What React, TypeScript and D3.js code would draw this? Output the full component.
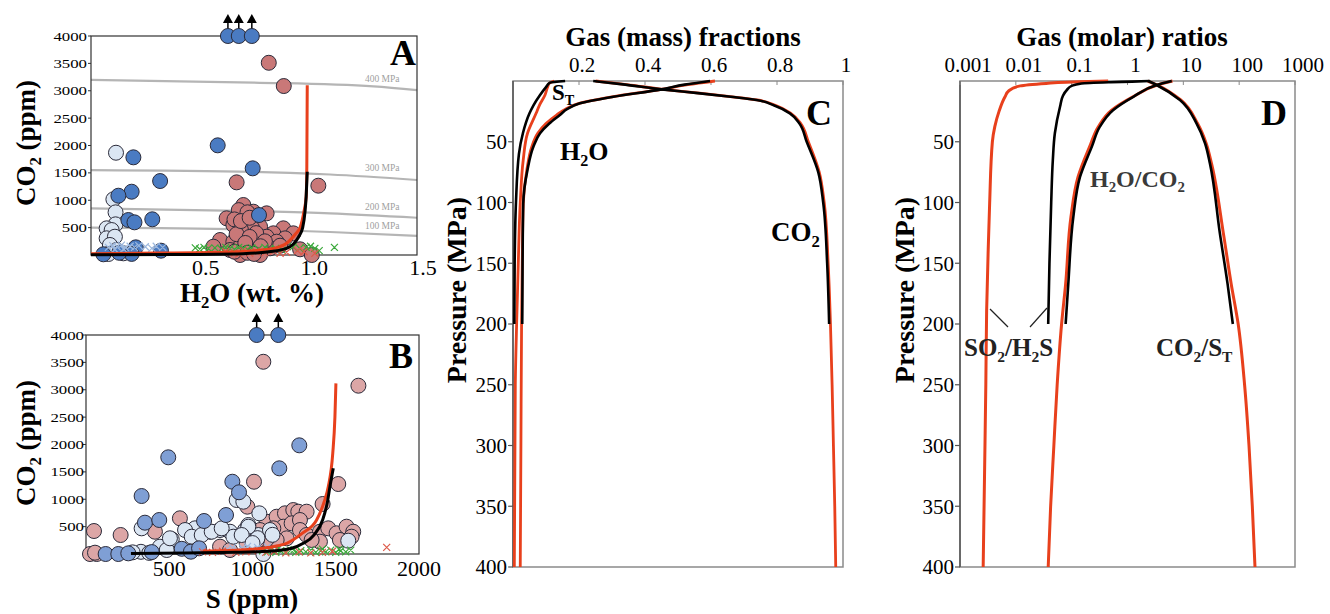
import React from "react";
import * as d3 from "d3";

const FONT = "'Liberation Serif', 'Times New Roman', serif";

// ---------- Panel A: H2O (wt.%) vs CO2 (ppm) ----------
const aBlueUp = [0.63, 0.68, 0.74]; // off-scale points (CO2 > 4000)
const aBlue = [
  [0.195, 1784], [0.583, 2003], [0.744, 1583], [0.318, 1351], [0.187, 1156],
  [0.126, 1083], [0.172, 639], [0.2, 597], [0.282, 652], [0.773, 730],
  [0.057, 13], [0.206, 140], [0.322, 79], [0.187, 20], [0.13, 40],
];
const aLight = [
  [0.115, 1868], [0.103, 1017], [0.113, 779], [0.113, 560], [0.072, 487],
  [0.095, 456], [0.072, 305], [0.11, 334], [0.087, 183], [0.118, 91],
  [0.149, 31], [0.08, 18],
];
const aPink = [
  [0.818, 3511], [0.887, 3086], [0.67, 1327], [1.046, 1266],
  [0.624, 670], [0.701, 913], [0.747, 791], [0.808, 761], [0.686, 700],
  [0.716, 608], [0.655, 548], [0.778, 517], [0.716, 426], [0.885, 487],
  [0.931, 396], [0.839, 396], [0.893, 304], [0.808, 334], [0.594, 274],
  [0.655, 243], [0.762, 274], [0.854, 243], [0.747, 183], [0.686, 152],
  [0.824, 122], [0.962, 104], [0.64, 91], [0.563, 152], [0.686, 0],
  [0.778, 0], [1.016, 0], [0.68, 820], [0.72, 780], [0.66, 650],
  [0.7, 560], [0.74, 500], [0.69, 460], [0.76, 400], [0.67, 380],
  [0.73, 330], [0.8, 250], [0.71, 220], [0.78, 160], [0.87, 170],
  [0.66, 60], [0.72, 40], [0.75, 20], [0.69, 620], [0.73, 680],
];
const aGreenX = [
  [0.48, 130], [0.5, 110], [0.52, 140], [0.54, 120], [0.57, 130], [0.6, 110],
  [0.62, 140], [0.64, 120], [0.66, 100], [0.68, 140], [0.7, 120], [0.72, 100],
  [0.74, 130], [0.77, 110], [0.8, 140], [0.82, 100], [0.85, 120], [0.88, 90],
  [0.93, 150], [0.96, 120], [0.99, 140], [1.01, 160], [1.03, 120], [1.05, 80],
  [1.12, 140],
];
const aRedX = [
  [0.62, 60], [0.66, 40], [0.7, 80], [0.73, 30], [0.76, 60], [0.8, 40],
  [0.84, 70], [0.87, 30], [0.9, 50], [0.95, 80], [0.98, 60], [1.03, 30], [0.68, 20],
];
const aLightX = [
  [0.08, 140], [0.1, 170], [0.12, 150], [0.14, 180], [0.16, 130], [0.18, 160],
  [0.2, 140], [0.22, 170], [0.25, 150], [0.28, 120], [0.3, 160], [0.33, 140],
  [0.11, 100], [0.15, 110],
];
const aRedPath = [
  [0, 25], [0.3, 35], [0.6, 50], [0.75, 80], [0.85, 130], [0.9, 214], [0.94, 380],
  [0.962, 500], [0.98, 800], [0.99, 1065], [0.993, 1600], [0.995, 3100],
];
const aBlackPath = [
  [0, 5], [0.4, 10], [0.7, 25], [0.82, 60], [0.9, 120], [0.93, 195], [0.955, 330],
  [0.974, 500], [0.985, 800], [0.99, 1065], [0.995, 1521],
];
const isobarNames = ["400 MPa", "300 MPa", "200 MPa", "100 MPa"];
const isobars = [
  [[0, 3200], [0.75, 3150], [1.3, 3080], [1.5, 3010]],
  [[0, 1550], [0.75, 1520], [1.1, 1470], [1.5, 1370]],
  [[0, 850], [0.75, 800], [1.1, 760], [1.5, 680]],
  [[0, 500], [0.7, 470], [1.1, 420], [1.5, 350]],
];
const aXTicks = [0.5, 1.0, 1.5];
const coTicks = [500, 1000, 1500, 2000, 2500, 3000, 3500, 4000];

// ---------- Panel B: S (ppm) vs CO2 (ppm) ----------
const bBlueUp = [1025, 1155];
const bBlue = [
  [494, 1766], [1281, 1985], [1161, 1565], [879, 1320], [919, 1127], [334, 1059],
  [354, 572], [440, 621], [709, 603], [841, 712], [118, 0], [194, 0], [254, 12],
  [395, 35], [575, 95], [630, 42], [679, 104],
];
const bLight = [
  [905, 986], [945, 955], [1041, 743], [955, 438], [975, 530], [865, 407],
  [805, 438], [745, 407], [655, 469], [595, 438], [635, 316], [515, 268],
  [334, 469], [1035, 347], [1105, 438], [885, 316], [1030, 290], [1575, 243],
  [1065, 0], [444, 134], [485, 73], [330, 40], [380, 20], [280, 30],
  [695, 347], [755, 407], [815, 469], [975, 499], [935, 347], [504, 287],
  [1000, 200], [1120, 350],
];
const bPink = [
  [1065, 3511], [1636, 3074], [1009, 1320], [1515, 1278], [969, 864], [1421, 913],
  [48, 420], [208, 347], [414, 407], [564, 652], [24, 0], [64, 0], [54, 24],
  [1085, 590], [1145, 681], [1195, 743], [1245, 803], [1275, 773], [1325, 773],
  [1185, 499], [1235, 560], [1285, 621], [1125, 469], [1045, 438], [1285, 438],
  [1325, 347], [1405, 407], [1455, 469], [1505, 378], [1565, 499], [1605, 407],
  [1595, 316], [1525, 256], [1405, 225], [1355, 256], [1205, 286], [1145, 256],
  [1085, 268], [1025, 225], [805, 134], [865, 73], [965, 195],
];
const bGreenX = [
  [1060, 60], [1090, 40], [1110, 70], [1140, 30], [1170, 60], [1200, 40],
  [1230, 70], [1260, 30], [1290, 60], [1320, 40], [1350, 70], [1380, 30],
  [1410, 60], [1440, 40], [1470, 70], [1500, 30], [1530, 60], [1560, 40],
  [1590, 70], [1150, 90], [1250, 80], [1420, 90], [1520, 85],
];
const bRedX = [
  [700, 40], [760, 30], [820, 50], [900, 30], [960, 40], [1000, 60], [1080, 30],
  [1130, 50], [1200, 20], [1280, 40], [1350, 20], [1420, 30], [1480, 50], [1806, 122],
];
const bLightX = [
  [850, 90], [880, 120], [910, 70], [940, 110], [970, 140], [1000, 90],
  [1030, 120], [1060, 80], [1090, 130], [1120, 100], [1150, 70],
];
const bRedPath = [
  [700, 55], [900, 70], [1050, 100], [1150, 150], [1205, 195], [1300, 380],
  [1385, 621], [1430, 950], [1455, 1229], [1482, 1838], [1495, 2500], [1501, 3117],
];
const bBlackPath = [
  [270, 10], [600, 20], [900, 30], [1100, 50], [1230, 100], [1305, 195],
  [1370, 350], [1421, 621], [1450, 950], [1465, 1229], [1485, 1565],
];
const bXTicks = [500, 1000, 1500, 2000];

// ---------- Panel C: gas mass fractions vs pressure ----------
const pTicks = [50, 100, 150, 200, 250, 300, 350, 400];
const cXTicks = [0.2, 0.4, 0.6, 0.8, 1];
const cCO2Red = [
  [0, 0.25], [3, 0.345], [6.9, 0.455], [10, 0.565], [13, 0.665], [15.6, 0.74],
  [20, 0.795], [26.6, 0.842], [35, 0.872], [50, 0.895], [75, 0.928], [100, 0.943],
  [150, 0.955], [200, 0.962], [250, 0.967], [300, 0.971], [350, 0.975], [400, 0.978],
];
const cCO2Blk = [
  [0, 0.243], [3, 0.34], [6.9, 0.45], [10, 0.56], [13, 0.66], [15.6, 0.738],
  [20, 0.79], [26.6, 0.839], [35, 0.868], [50, 0.89], [75, 0.925], [100, 0.94],
  [150, 0.952], [200, 0.958],
];
const cH2ORed = [
  [0, 0.612], [3, 0.53], [6.9, 0.45], [13, 0.3], [18.4, 0.2], [23, 0.16],
  [28, 0.132], [35, 0.1], [43, 0.075], [54, 0.057], [73, 0.042], [101, 0.031],
  [150, 0.028], [200, 0.026], [300, 0.024], [400, 0.022],
];
const cH2OBlk = [
  [0, 0.597], [3, 0.52], [6.9, 0.45], [13, 0.304], [18.4, 0.203], [23, 0.165],
  [28, 0.142], [35, 0.11], [43, 0.082], [54, 0.062], [73, 0.044], [101, 0.031],
  [150, 0.029], [200, 0.028],
];
const cSTRed = [
  [0, 0.125], [2, 0.11], [5, 0.105], [11.5, 0.097], [20, 0.08], [26.6, 0.07],
  [43, 0.044], [65, 0.031], [100, 0.022], [150, 0.016], [200, 0.011], [250, 0.007],
  [400, 0.004],
];
const cSTBlk = [
  [0, 0.158], [1.4, 0.112], [5, 0.1], [11.5, 0.082], [20, 0.062], [26.6, 0.05],
  [43, 0.03], [60, 0.018], [100, 0.009], [150, 0.005], [200, 0.004],
];

// ---------- Panel D: gas molar ratios vs pressure ----------
const dXTicks = [0.001, 0.01, 0.1, 1, 10, 100, 1000];
const dXLabels = ["0.001", "0.01", "0.1", "1", "10", "100", "1000"];
const dSO2Red = [
  [0, 0.45], [0.5, 0.2], [1, 0.08], [2, 0.035], [4, 0.012], [8, 0.0075],
  [13, 0.0064], [25, 0.005], [37.6, 0.0042], [50, 0.0038], [100, 0.0034],
  [139, 0.0032], [189, 0.003], [250, 0.0029], [300, 0.0028], [400, 0.0026],
];
const dSO2Blk = [
  [0, 2.5], [0.5, 1.2], [1, 0.5], [2, 0.15], [4, 0.1], [7.4, 0.082], [12, 0.07],
  [21, 0.062], [43, 0.05], [65, 0.046], [100, 0.043], [150, 0.04], [200, 0.038],
];
const dH2ORed = [
  [0, 6.4], [3.3, 3.4], [13, 1.25], [24, 0.52], [37.6, 0.3], [54, 0.21],
  [79, 0.13], [112, 0.097], [167, 0.078], [200, 0.066], [250, 0.055],
  [300, 0.048], [350, 0.042], [400, 0.038],
];
const dH2OBlk = [
  [0, 6.2], [3.3, 3.33], [13, 1.27], [24, 0.55], [37.6, 0.32], [54, 0.23],
  [79, 0.141], [112, 0.107], [167, 0.087], [200, 0.078],
];
const dCO2Red = [
  [0, 2.3], [3.3, 3.4], [15.6, 9], [35, 18], [51, 25.5], [68, 32], [125, 52],
  [167, 72], [200, 96], [250, 125], [300, 150], [350, 172], [400, 192],
];
const dCO2Blk = [
  [0, 2.36], [3.3, 3.33], [15.6, 8.7], [35, 17.3], [51, 24.4], [68, 30],
  [125, 45], [167, 62], [200, 77],
];

const RED = "#e8401c";
const DBLUE = "#4a7bc2";
const LBLUE = "#dbe6f3";
const PINK_A = "#c97878";
const PINK_B = "#dca6a6";
const BBLUE = "#7f9fd5";

// text with subscripts: parts beginning with "_" are subscripts
function Chem({ parts, size }) {
  const out = [];
  let down = false;
  parts.forEach((p, i) => {
    if (p.startsWith("_")) {
      out.push(
        <tspan key={i} dy={size * 0.22} fontSize={size * 0.62}>{p.slice(1)}</tspan>
      );
      down = true;
    } else {
      out.push(<tspan key={i} dy={down ? -size * 0.22 : 0}>{p}</tspan>);
      down = false;
    }
  });
  return <>{out}</>;
}

const crossPath = (x, y, s = 3.5) =>
  `M${x - s},${y - s}L${x + s},${y + s}M${x - s},${y + s}L${x + s},${y - s}`;

function Scatter({ xs, ys, pts, fill }) {
  return (
    <g>
      {pts.map((d, i) => (
        <circle key={i} cx={xs(d[0])} cy={ys(d[1])} r={7.5} fill={fill}
          stroke="#2b2b3a" strokeWidth={1} />
      ))}
    </g>
  );
}

function Crosses({ xs, ys, pts, color }) {
  return (
    <path d={pts.map((d) => crossPath(xs(d[0]), ys(d[1]))).join("")}
      stroke={color} strokeWidth={1.2} fill="none" />
  );
}

function UpArrows({ xs, y, vals, fill }) {
  return (
    <g>
      {vals.map((v, i) => {
        const x = xs(v);
        return (
          <g key={i}>
            <line x1={x} x2={x} y1={y - 7} y2={y - 14} stroke="#000" strokeWidth={1.5} />
            <path d={`M${x - 5},${y - 13}L${x + 5},${y - 13}L${x},${y - 22}Z`} fill="#000" />
            <circle cx={x} cy={y} r={7.5} fill={fill} stroke="#2b2b3a" strokeWidth={1} />
          </g>
        );
      })}
    </g>
  );
}

function PanelA() {
  const x = d3.scaleLinear().domain([0, 1.5]).range([91, 417]);
  const y = d3.scaleLinear().domain([0, 4000]).range([255, 36]);
  const line = d3.line().x((d) => x(d[0])).y((d) => y(d[1])).curve(d3.curveMonotoneX);
  const iso = d3.line().x((d) => x(d[0])).y((d) => y(d[1])).curve(d3.curveMonotoneX);
  return (
    <g>
      {isobars.map((l, i) => (
        <path key={i} d={iso(l)} stroke="#b5b5b5" strokeWidth={2.2} fill="none" />
      ))}
      {isobars.map((l, i) => {
        const yy = d3.scaleLinear().domain([l[1][0], l[2][0]]).range([l[1][1], l[2][1]])(1.34);
        return (
          <text key={i} x={x(1.34)} y={y(yy) - 5} fontSize={9.5} fill="#a0a0a0"
            textAnchor="middle" fontFamily={FONT}>{isobarNames[i]}</text>
        );
      })}
      <rect x={91} y={36} width={326} height={219} fill="none" stroke="#333" strokeWidth={1.2} />
      {coTicks.map((t) => (
        <g key={t}>
          <line x1={88} x2={91} y1={y(t)} y2={y(t)} stroke="#333" />
          <text x={87} y={y(t)} dy="0.35em" textAnchor="end" fontSize={13}
            textLength={String(t).length * 8.4} lengthAdjust="spacingAndGlyphs"
            fontFamily={FONT}>{t}</text>
        </g>
      ))}
      {aXTicks.map((t) => (
        <text key={t} x={x(t) + 6} y={275} textAnchor="middle" fontSize={22}
          fontFamily={FONT}>{t.toFixed(1)}</text>
      ))}
      <Scatter xs={x} ys={y} pts={aLight} fill={LBLUE} />
      <Scatter xs={x} ys={y} pts={aPink} fill={PINK_A} />
      <Scatter xs={x} ys={y} pts={aBlue} fill={DBLUE} />
      <Crosses xs={x} ys={y} pts={aLightX} color="#9db8de" />
      <Crosses xs={x} ys={y} pts={aGreenX} color="#3aa83a" />
      <Crosses xs={x} ys={y} pts={aRedX} color="#dd5a4a" />
      <path d={line(aRedPath)} stroke={RED} strokeWidth={3} fill="none" />
      <path d={line(aBlackPath)} stroke="#000" strokeWidth={3} fill="none" />
      <UpArrows xs={x} y={y(4000)} vals={aBlueUp} fill={DBLUE} />
      <text x={416} y={65} textAnchor="end" fontSize={36} fontWeight="bold" fontFamily={FONT}>A</text>
      <text x={252} y={302} textAnchor="middle" fontSize={27} fontWeight="bold" fontFamily={FONT}>
        <Chem parts={["H", "_2", "O (wt. %)"]} size={27} />
      </text>
      <text transform="translate(35,143) rotate(-90)" textAnchor="middle" fontSize={27}
        fontWeight="bold" fontFamily={FONT}>
        <Chem parts={["CO", "_2", " (ppm)"]} size={27} />
      </text>
    </g>
  );
}

function PanelB() {
  const x = d3.scaleLinear().domain([0, 2000]).range([86, 419]);
  const y = d3.scaleLinear().domain([0, 4000]).range([554, 335]);
  const line = d3.line().x((d) => x(d[0])).y((d) => y(d[1])).curve(d3.curveMonotoneX);
  return (
    <g>
      <rect x={86} y={335} width={333} height={219} fill="none" stroke="#333" strokeWidth={1.2} />
      {coTicks.map((t) => (
        <g key={t}>
          <line x1={83} x2={86} y1={y(t)} y2={y(t)} stroke="#333" />
          <text x={84} y={y(t)} dy="0.35em" textAnchor="end" fontSize={13}
            textLength={String(t).length * 8.4} lengthAdjust="spacingAndGlyphs"
            fontFamily={FONT}>{t}</text>
        </g>
      ))}
      {bXTicks.map((t) => (
        <text key={t} x={x(t)} y={576} textAnchor="middle" fontSize={22} fontFamily={FONT}>{t}</text>
      ))}
      <Scatter xs={x} ys={y} pts={bPink} fill={PINK_B} />
      <Scatter xs={x} ys={y} pts={bLight} fill={LBLUE} />
      <Scatter xs={x} ys={y} pts={bBlue} fill={BBLUE} />
      <Crosses xs={x} ys={y} pts={bLightX} color="#9db8de" />
      <Crosses xs={x} ys={y} pts={bGreenX} color="#3aa83a" />
      <Crosses xs={x} ys={y} pts={bRedX} color="#dd5a4a" />
      <path d={line(bRedPath)} stroke={RED} strokeWidth={3} fill="none" />
      <path d={line(bBlackPath)} stroke="#000" strokeWidth={3} fill="none" />
      <UpArrows xs={x} y={y(4000)} vals={bBlueUp} fill={DBLUE} />
      <text x={413} y={368} textAnchor="end" fontSize={36} fontWeight="bold" fontFamily={FONT}>B</text>
      <text x={252} y={608} textAnchor="middle" fontSize={27} fontWeight="bold" fontFamily={FONT}>S (ppm)</text>
      <text transform="translate(35,443) rotate(-90)" textAnchor="middle" fontSize={27}
        fontWeight="bold" fontFamily={FONT}>
        <Chem parts={["CO", "_2", " (ppm)"]} size={27} />
      </text>
    </g>
  );
}

function PressureFrame({ x0, x1, y, labelX }) {
  return (
    <g>
      <rect x={x0} y={81} width={x1 - x0} height={486} fill="none" stroke="#8a8a8a" strokeWidth={1.5} />
      <line x1={x0} x2={x0} y1={81} y2={567} stroke="#555" strokeWidth={1.5} />
      {pTicks.map((t) => (
        <g key={t}>
          <line x1={x0 - 5} x2={x0} y1={y(t)} y2={y(t)} stroke="#555" strokeWidth={1.2} />
          <text x={x0 - 6} y={y(t)} dy="0.35em" textAnchor="end" fontSize={21}
            fontFamily={FONT}>{t}</text>
        </g>
      ))}
      <text transform={`translate(${labelX},290) rotate(-90)`} textAnchor="middle"
        fontSize={28} fontWeight="bold" fontFamily={FONT}>Pressure (MPa)</text>
    </g>
  );
}

function PanelC() {
  const x = d3.scaleLinear().domain([0, 1]).range([513, 843]);
  const y = d3.scaleLinear().domain([0, 400]).range([81, 567]);
  const line = d3.line().x((d) => x(d[1])).y((d) => y(d[0])).curve(d3.curveMonotoneY);
  return (
    <g>
      <PressureFrame x0={513} x1={843} y={y} labelX={466} />
      {cXTicks.map((t) => (
        <g key={t}>
          <line x1={x(t)} x2={x(t)} y1={81} y2={85} stroke="#8a8a8a" />
          <text x={x(t) + 3} y={72} textAnchor="middle" fontSize={21} fontFamily={FONT}>{t}</text>
        </g>
      ))}
      <text x={683} y={46} textAnchor="middle" fontSize={27} fontWeight="bold"
        fontFamily={FONT}>Gas (mass) fractions</text>
      {[cCO2Red, cH2ORed, cSTRed].map((s, i) => (
        <path key={i} d={line(s)} stroke={RED} strokeWidth={2.8} fill="none" />
      ))}
      {[cCO2Blk, cH2OBlk, cSTBlk].map((s, i) => (
        <path key={i} d={line(s)} stroke="#000" strokeWidth={2.6} fill="none" />
      ))}
      <text x={552} y={100} fontSize={23} fontWeight="bold" fontFamily={FONT}>
        <Chem parts={["S", "_T"]} size={23} />
      </text>
      <text x={560} y={160} fontSize={26} fontWeight="bold" fontFamily={FONT}>
        <Chem parts={["H", "_2", "O"]} size={26} />
      </text>
      <text x={771} y={241} fontSize={27} fontWeight="bold" fontFamily={FONT}>
        <Chem parts={["CO", "_2"]} size={27} />
      </text>
      <text x={832} y={125} textAnchor="end" fontSize={36} fontWeight="bold" fontFamily={FONT}>C</text>
    </g>
  );
}

function PanelD() {
  const x = d3.scaleLog().domain([0.001, 1000]).range([960, 1295]);
  const y = d3.scaleLinear().domain([0, 400]).range([81, 567]);
  const line = d3.line().x((d) => x(d[1])).y((d) => y(d[0])).curve(d3.curveMonotoneY);
  return (
    <g>
      <PressureFrame x0={960} x1={1295} y={y} labelX={914} />
      {dXTicks.map((t, i) => (
        <g key={t}>
          <line x1={x(t)} x2={x(t)} y1={81} y2={85} stroke="#8a8a8a" />
          <text x={x(t) + 8} y={72} textAnchor="middle" fontSize={21}
            fontFamily={FONT}>{dXLabels[i]}</text>
        </g>
      ))}
      <text x={1122} y={46} textAnchor="middle" fontSize={27} fontWeight="bold"
        fontFamily={FONT}>Gas (molar) ratios</text>
      {[dSO2Red, dH2ORed, dCO2Red].map((s, i) => (
        <path key={i} d={line(s)} stroke={RED} strokeWidth={3} fill="none" />
      ))}
      {[dSO2Blk, dH2OBlk, dCO2Blk].map((s, i) => (
        <path key={i} d={line(s)} stroke="#000" strokeWidth={2.6} fill="none" />
      ))}
      <line x1={990} y1={309} x2={1008} y2={327} stroke="#222" strokeWidth={1.2} />
      <line x1={1030} y1={327} x2={1047} y2={308} stroke="#222" strokeWidth={1.2} />
      <text x={1090} y={187} fontSize={24} fontWeight="bold" fill="#3a3a3a" fontFamily={FONT}>
        <Chem parts={["H", "_2", "O/CO", "_2"]} size={24} />
      </text>
      <text x={964} y={356} fontSize={25} fontWeight="bold" fill="#222" fontFamily={FONT}>
        <Chem parts={["SO", "_2", "/H", "_2", "S"]} size={25} />
      </text>
      <text x={1156} y={356} fontSize={25} fontWeight="bold" fill="#222" fontFamily={FONT}>
        <Chem parts={["CO", "_2", "/S", "_T"]} size={25} />
      </text>
      <text x={1287} y={125} textAnchor="end" fontSize={36} fontWeight="bold" fontFamily={FONT}>D</text>
    </g>
  );
}

export default function App() {
  return (
    <svg width={1330} height={614} style={{ position: "absolute", left: 0, top: 0, background: "#fff" }}
      fontFamily={FONT}>
      <rect width={1330} height={614} fill="#fff" />
      <PanelA />
      <PanelB />
      <PanelC />
      <PanelD />
    </svg>
  );
}
